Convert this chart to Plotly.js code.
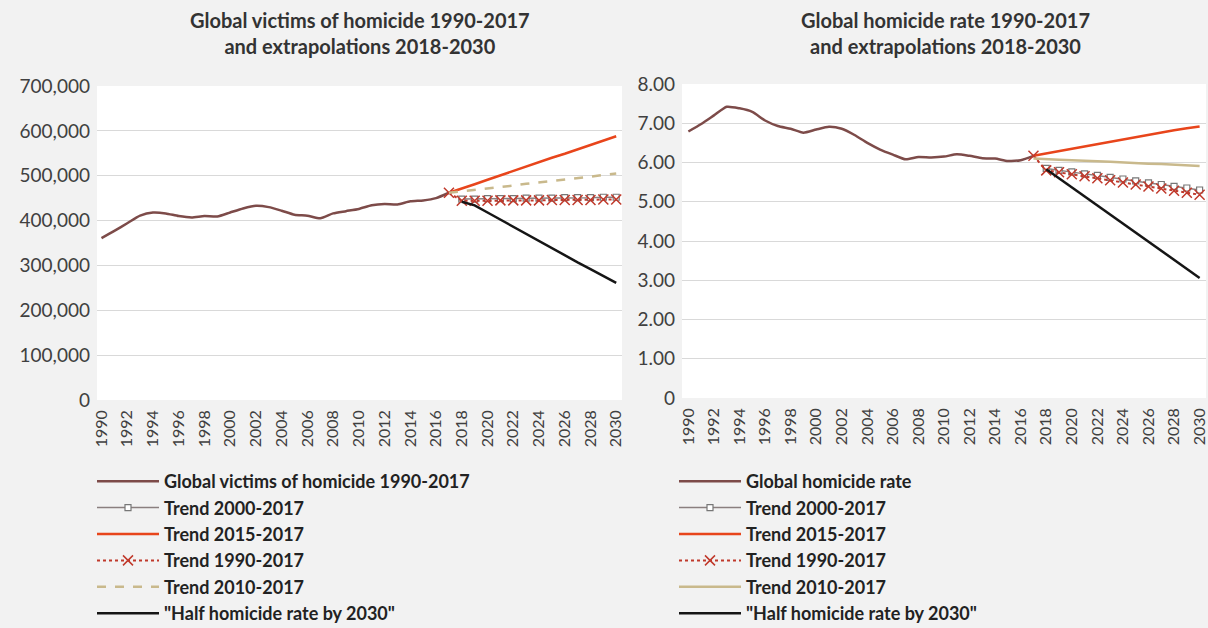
<!DOCTYPE html>
<html>
<head>
<meta charset="utf-8">
<script src="https://cdn.plot.ly/plotly-3.0.1.min.js"></script>
<style>html,body{margin:0;padding:0;background:#f2f2f2;}#chart{width:1208px;height:628px;}</style>
</head>
<body>
<div id="chart"></div>
<script>
// ---- Data ----
const histYears = [1990,1991,1992,1993,1994,1995,1996,1997,1998,1999,2000,2001,2002,2003,2004,2005,2006,2007,2008,2009,2010,2011,2012,2013,2014,2015,2016,2017];
const victims = [361000,377000,394000,411000,418000,416000,410000,407000,410000,409000,418000,427000,433000,430000,422000,413000,411000,405000,416000,421000,426000,434000,437000,436000,443000,445000,450000,462000];
const rates = [6.79,6.98,7.20,7.42,7.38,7.29,7.07,6.93,6.86,6.76,6.84,6.91,6.86,6.70,6.50,6.33,6.20,6.08,6.14,6.13,6.15,6.21,6.17,6.11,6.10,6.04,6.06,6.17];

const projYears17 = [2017,2018,2019,2020,2021,2022,2023,2024,2025,2026,2027,2028,2029,2030];
const projYears18 = [2018,2019,2020,2021,2022,2023,2024,2025,2026,2027,2028,2029,2030];

// Victims extrapolations
const vTrend0017 = [448000,448000,449000,449000,449000,450000,450000,450000,451000,451000,451000,452000,452000];
const vTrend1517 = [462000,471000,481000,491000,501000,510000,520000,530000,540000,549000,559000,569000,578000,588000];
const vTrend9017 = [462000,444000,444000,444000,445000,445000,445000,445000,446000,446000,446000,446000,447000,447000];
const vTrend1017 = [462000,465000,469000,472000,475000,478000,482000,485000,488000,492000,495000,498000,502000,505000];
const vHalf = [442000,434000,418000,402000,386000,370000,354000,338000,322000,307000,292000,276000,261000];

// Rate extrapolations
const rTrend0017 = [5.85,5.80,5.76,5.71,5.67,5.62,5.58,5.53,5.48,5.44,5.39,5.35,5.30];
const rTrend1517 = [6.17,6.23,6.29,6.35,6.41,6.47,6.53,6.59,6.65,6.70,6.76,6.82,6.87,6.92];
const rTrend9017 = [6.17,5.80,5.75,5.70,5.65,5.60,5.55,5.49,5.44,5.39,5.34,5.28,5.23,5.18];
const rTrend1017 = [6.10,6.08,6.07,6.06,6.04,6.03,6.02,6.00,5.99,5.97,5.96,5.94,5.93,5.91];
const rHalf = [5.83,5.60,5.37,5.14,4.90,4.67,4.44,4.21,3.98,3.75,3.52,3.29,3.06];

const tickYears = [1990,1992,1994,1996,1998,2000,2002,2004,2006,2008,2010,2012,2014,2016,2018,2020,2022,2024,2026,2028,2030];
const leftTitle = 'Global victims of homicide 1990-2017<br>and extrapolations 2018-2030';
const rightTitle = 'Global homicide rate 1990-2017<br>and extrapolations 2018-2030';
const leftNames = ['Global victims of homicide 1990-2017','Trend 2000-2017','Trend 2015-2017','Trend 1990-2017','Trend 2010-2017','"Half homicide rate by 2030"'];
const rightNames = ['Global homicide rate','Trend 2000-2017','Trend 2015-2017','Trend 1990-2017','Trend 2010-2017','"Half homicide rate by 2030"'];

// ---- Styles ----
const C = {hist:'#7d4b49', t0017:'#8a7f7f', t1517:'#e8451b', t9017:'#c0392b', t1017:'#c9b98c', half:'#151515'};

function makeTraces(sfx, legend, hist, t0017, t1517, t9017, t1017, half, names){
  return [
    {x:histYears, y:hist, xaxis:'x'+sfx, yaxis:'y'+sfx, legend:legend, name:names[0], mode:'lines', line:{color:C.hist, width:2.5, shape:'spline', smoothing:0.6}},
    {x:projYears18, y:t0017, xaxis:'x'+sfx, yaxis:'y'+sfx, legend:legend, name:names[1], mode:'lines+markers', line:{color:C.t0017, width:1.5}, marker:{symbol:'square', size:6, color:'#ffffff', line:{color:'#777', width:1.2}}},
    {x:projYears17, y:t1517, xaxis:'x'+sfx, yaxis:'y'+sfx, legend:legend, name:names[2], mode:'lines', line:{color:C.t1517, width:2.5}},
    {x:projYears17, y:t9017, xaxis:'x'+sfx, yaxis:'y'+sfx, legend:legend, name:names[3], mode:'lines+markers', line:{color:C.t9017, width:2, dash:'dot'}, marker:{symbol:'x-thin-open', size:10, color:C.t9017, line:{color:C.t9017, width:1.5}}},
    {x:projYears17, y:t1017, xaxis:'x'+sfx, yaxis:'y'+sfx, legend:legend, name:names[4], mode:'lines', line:{color:C.t1017, width:2.5, dash: sfx==='' ? 'dash' : 'solid'}},
    {x:projYears18, y:half, xaxis:'x'+sfx, yaxis:'y'+sfx, legend:legend, name:names[5], mode:'lines', line:{color:C.half, width:2.5}}
  ];
}

const traces = [].concat(
  makeTraces('', 'legend', victims, vTrend0017, vTrend1517, vTrend9017, vTrend1017, vHalf, leftNames),
  makeTraces('2', 'legend2', rates, rTrend0017, rTrend1517, rTrend9017, rTrend1017, rHalf, rightNames)
);

const FONT = 'Lato, "Open Sans", sans-serif';
const tickFont = {family:FONT, size:19, color:'#404040'};
const xTickFont = {family:FONT, size:16, color:'#404040'};
const W = 1208, H = 628;
function px(x){return x/W;}
function py(y){return 1 - y/H;}

const xcommon = {tickmode:'array', tickvals:tickYears, ticktext:tickYears.map(String), tickangle:-90, tickfont:xTickFont, showgrid:false, zeroline:false, showline:false, ticks:'', ticklen:0, ticklabelstandoff:6, automargin:false};
const ycommon = {showgrid:true, gridcolor:'#d9d9d9', gridwidth:1, zeroline:false, showline:false, ticks:'', tickfont:tickFont, ticklabelstandoff:6, automargin:false};

const legendFont = {family:FONT, size:18, color:'#222', weight:'bold'};

const layout = {
  width:W, height:H,
  paper_bgcolor:'#f2f2f2', plot_bgcolor:'#ffffff',
  margin:{l:0,r:0,t:0,b:0,autoexpand:false},
  showlegend:true,
  xaxis: Object.assign({}, xcommon, {domain:[px(97), px(622)], range:[1989.65, 2030.45], anchor:'y'}),
  yaxis: Object.assign({}, ycommon, {domain:[py(400), py(86)], range:[0,700000], tickvals:[0,100000,200000,300000,400000,500000,600000,700000], ticktext:['0','100,000','200,000','300,000','400,000','500,000','600,000','700,000'], anchor:'x'}),
  xaxis2: Object.assign({}, xcommon, {domain:[px(682), px(1206)], range:[1989.5, 2030.5], anchor:'y2'}),
  yaxis2: Object.assign({}, ycommon, {domain:[py(398), py(84)], range:[0,8], tickvals:[0,1,2,3,4,5,6,7,8], ticktext:['0','1.00','2.00','3.00','4.00','5.00','6.00','7.00','8.00'], anchor:'x2'}),
  legend: {x:px(92), y:py(463), xanchor:'left', yanchor:'top', bgcolor:'rgba(0,0,0,0)', font:legendFont, itemwidth:62},
  legend2: {x:px(674), y:py(463), xanchor:'left', yanchor:'top', bgcolor:'rgba(0,0,0,0)', font:legendFont, itemwidth:62},
  annotations:[
    {text:leftTitle, x:px(360), y:py(6), xref:'paper', yref:'paper', xanchor:'center', yanchor:'top', showarrow:false, align:'center', font:{family:FONT, size:20, color:'#333', weight:'bold'}},
    {text:rightTitle, x:px(945), y:py(6), xref:'paper', yref:'paper', xanchor:'center', yanchor:'top', showarrow:false, align:'center', font:{family:FONT, size:20, color:'#333', weight:'bold'}}
  ]
};

Plotly.newPlot('chart', traces, layout, {displayModeBar:false, staticPlot:true});
</script>
</body>
</html>
